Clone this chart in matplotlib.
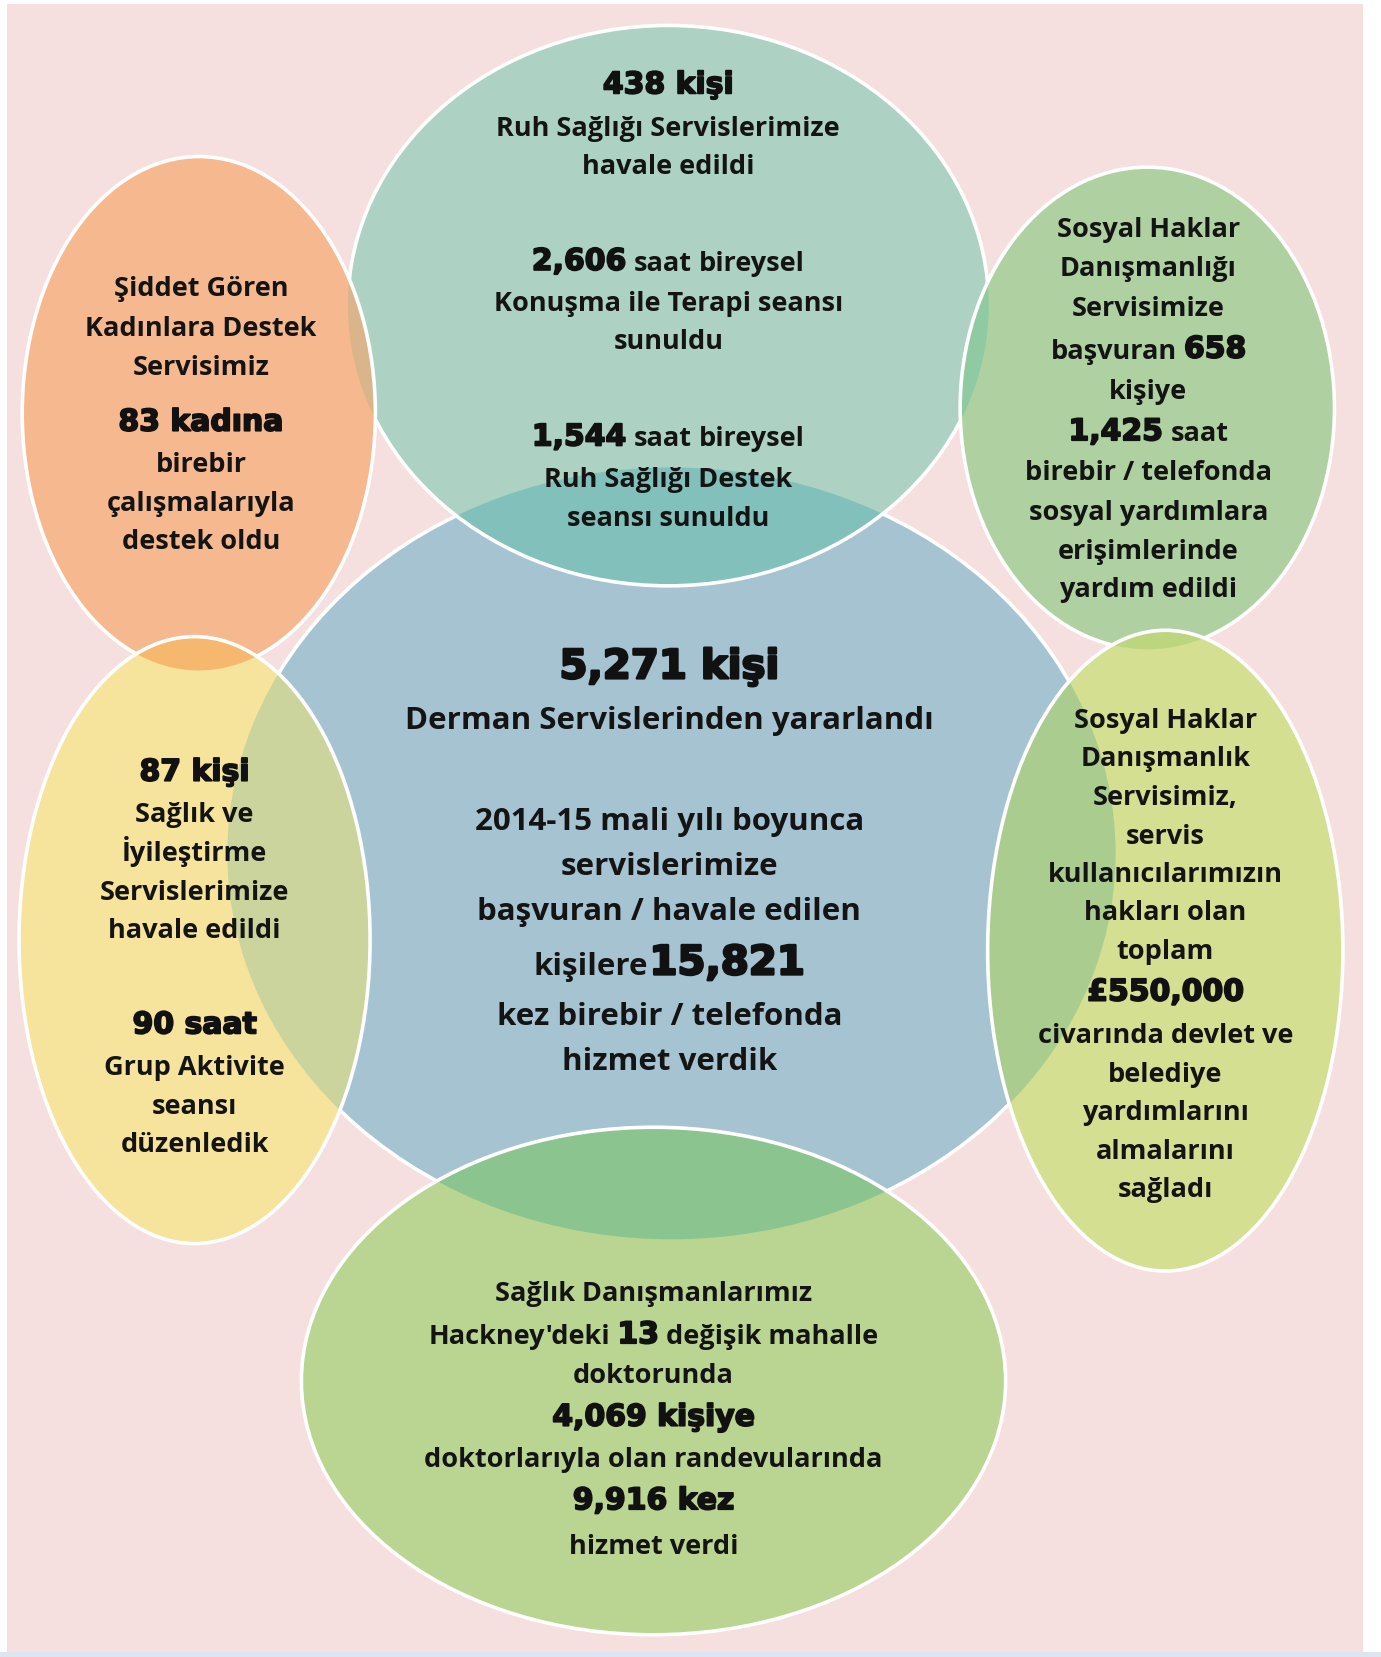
import matplotlib
matplotlib.use('Agg')
import matplotlib.pyplot as plt
import matplotlib.patheffects as pe
from matplotlib.patches import Ellipse, Rectangle

# layout units are the pixels of the 1306x1568 preview, scaled up to 1381x1658
W, H = 1306, 1568

# bubbles: name, centre, half width, half height, fill colour (drawing order)
bubble_names = ['derman', 'ruh', 'kadin', 'sosyal1', 'saglik', 'sosyal2', 'doktor']
bubble_cx = [635, 632, 188, 1085, 184, 1102, 618]
bubble_cy = [808, 290, 392, 387, 890, 900, 1307]
bubble_hw = [420, 303, 167, 177, 166, 168, 333]
bubble_hh = [365, 265, 243, 228, 287, 303, 240]
bubble_fill = ['#a6c3d2', '#add2c4', '#f6b98f', '#afd1a1', '#f6e39c', '#d5df92', '#bad592']

# colours where a later bubble lies over an earlier one
overlap_fill = {
    (0, 1): '#82c0bc',
    (0, 2): '#dcb690',
    (1, 2): '#dab58c',
    (0, 3): '#97c6a6',
    (1, 3): '#8fcaa3',
    (0, 4): '#cad49c',
    (2, 4): '#f6b86f',
    (0, 5): '#abcc8f',
    (3, 5): '#bcd680',
    (0, 6): '#8cc48f',
}

# figures quoted in the bubbles
ruh_values = [438, 2606, 1544]
kadin_values = [83]
sosyal1_values = [658, 1425]
derman_values = [5271, 15821]
saglik_values = [87, 90]
sosyal2_values = [550000]
doktor_values = [13, 4069, 9916]


def n(v):
    return f'{v:,}'


fig = plt.figure(figsize=(13.81, 16.58), dpi=100)
ax = fig.add_axes([0, 0, 1, 1])
ax.set_xlim(0, W)
ax.set_ylim(H, 0)
ax.axis('off')

# page background
ax.add_patch(Rectangle((0, 1563), W, 5, fc='#dfe5ee', ec='none', zorder=0))
ax.add_patch(Rectangle((6.6, 4.5), 1282.5, 1558.5, fc='#f5dfdf', ec='none', zorder=1))

z = 2
for j in range(len(bubble_names)):
    e = Ellipse((bubble_cx[j], bubble_cy[j]), 2 * bubble_hw[j], 2 * bubble_hh[j],
                fc=bubble_fill[j], ec='none', zorder=z)
    ax.add_patch(e)
    z += 1
    for i in range(j):
        if (i, j) in overlap_fill:
            o = Ellipse((bubble_cx[i], bubble_cy[i]), 2 * bubble_hw[i], 2 * bubble_hh[i],
                        fc=overlap_fill[(i, j)], ec='none', zorder=z)
            ax.add_patch(o)
            o.set_clip_path(e)
            z += 1
    ax.add_patch(Ellipse((bubble_cx[j], bubble_cy[j]), 2 * bubble_hw[j], 2 * bubble_hh[j],
                         fill=False, ec='white', lw=2.6, zorder=z))
    z += 1

BODY = dict(family=['Open Sans', 'DejaVu Sans'], fontweight='bold', fontsize=19.5, color='#141414')
BIG = dict(BODY, fontsize=22.5)
thick = [pe.withStroke(linewidth=1.3, foreground='#111111')]
NUM = dict(family=['DejaVu Sans'], fontweight='bold', fontsize=21.5, color='#111111',
           path_effects=thick)
NUMBIG = dict(NUM, fontsize=29, path_effects=[pe.withStroke(linewidth=1.8, foreground='#111111')])
styles = {'b': BODY, 'B': BIG, 'n': NUM, 'N': NUMBIG}

renderer = fig.canvas.get_renderer()
px = W / 1381.0


def line(x, yc, parts, gap=7):
    size = max(styles[k]['fontsize'] for _, k in parts)
    yb = yc + 0.43 * size
    arts = [ax.text(x, yb, t, ha='left', va='baseline', zorder=50, **styles[k]) for t, k in parts]
    ws = [a.get_window_extent(renderer).width * px for a in arts]
    cur = x - (sum(ws) + gap * (len(ws) - 1)) / 2
    for a, w in zip(arts, ws):
        a.set_x(cur)
        cur += w + gap


def block(x, rows):
    for row in rows:
        yc, parts = row[0], row[1]
        gap = row[2] if len(row) > 2 else 7
        if isinstance(parts, str):
            parts = [(parts, 'b')]
        line(x, yc, parts, gap)


# top: mental health
block(632, [
    (80, [(n(ruh_values[0]) + ' kişi', 'n')]),
    (120, 'Ruh Sağlığı Servislerimize'),
    (156, 'havale edildi'),
    (247, [(n(ruh_values[1]), 'n'), ('saat', 'b'), ('bireysel', 'b')]),
    (286, 'Konuşma ile Terapi seansı'),
    (322, 'sunuldu'),
    (413, [(n(ruh_values[2]), 'n'), ('saat', 'b'), ('bireysel', 'b')]),
    (452, 'Ruh Sağlığı Destek'),
    (489, 'seansı sunuldu'),
])

# left top: women's support
block(190, [
    (272, 'Şiddet Gören'),
    (309, 'Kadınlara Destek'),
    (346, 'Servisimiz'),
    (399, [(n(kadin_values[0]) + ' kadına', 'n')]),
    (438, 'birebir'),
    (475, 'çalışmalarıyla'),
    (511, 'destek oldu'),
])

# right top: social rights
block(1086, [
    (216, 'Sosyal Haklar'),
    (253, 'Danışmanlığı'),
    (290, 'Servisimize'),
    (330, [('başvuran', 'b'), (n(sosyal1_values[0]), 'n')]),
    (369, 'kişiye'),
    (408, [(n(sosyal1_values[1]), 'n'), ('saat', 'b')]),
    (446, 'birebir / telefonda'),
    (483, 'sosyal yardımlara'),
    (520, 'erişimlerinde'),
    (556, 'yardım edildi'),
])

# centre
block(633, [
    (630, [(n(derman_values[0]) + ' kişi', 'N')]),
    (680, [('Derman Servislerinden yararlandı', 'B')]),
    (775, [('2014-15 mali yılı boyunca', 'B')]),
    (818, [('servislerimize', 'B')]),
    (860, [('başvuran / havale edilen', 'B')]),
    (910, [('kişilere', 'B'), (n(derman_values[1]), 'N')], 1),
    (960, [('kez birebir / telefonda', 'B')]),
    (1002, [('hizmet verdik', 'B')]),
])

# left bottom: health and wellbeing
block(184, [
    (730, [(n(saglik_values[0]) + ' kişi', 'n')]),
    (769, 'Sağlık ve'),
    (806, 'İyileştirme'),
    (843, 'Servislerimize'),
    (879, 'havale edildi'),
    (969, [(n(saglik_values[1]) + ' saat', 'n')]),
    (1008, 'Grup Aktivite'),
    (1045, 'seansı'),
    (1081, 'düzenledik'),
])

# right bottom: benefits
block(1102, [
    (680, 'Sosyal Haklar'),
    (716, 'Danışmanlık'),
    (753, 'Servisimiz,'),
    (790, 'servis'),
    (826, 'kullanıcılarımızın'),
    (862, 'hakları olan'),
    (899, 'toplam'),
    (938, [('£' + n(sosyal2_values[0]), 'n')]),
    (978, 'civarında devlet ve'),
    (1015, 'belediye'),
    (1051, 'yardımlarını'),
    (1088, 'almalarını'),
    (1124, 'sağladı'),
])

# bottom: health advocates
block(618, [
    (1222, 'Sağlık Danışmanlarımız'),
    (1262, [("Hackney'deki", 'b'), (n(doktor_values[0]), 'n'), ('değişik mahalle', 'b')]),
    (1300, 'doktorunda'),
    (1340, [(n(doktor_values[1]) + ' kişiye', 'n')]),
    (1379, 'doktorlarıyla olan randevularında'),
    (1419, [(n(doktor_values[2]) + ' kez', 'n')]),
    (1461, 'hizmet verdi'),
])

fig.savefig('out.png', dpi=100)
